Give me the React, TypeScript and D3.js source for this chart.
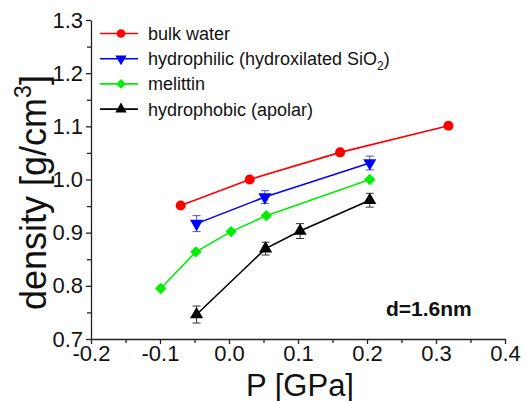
import React, { useEffect, useRef } from 'react';
import * as d3 from 'd3';

// pressure [GPa] / density [g/cm3]
const bulkP = [-0.07, 0.03, 0.161, 0.318];
const bulkD = [0.951, 1.0, 1.051, 1.101];

const philicP = [-0.047, 0.052, 0.204];
const philicD = [0.917, 0.967, 1.031];
const philicErr = [0.015, 0.012, 0.013];

const melittinP = [-0.099, -0.048, 0.003, 0.054, 0.204];
const melittinD = [0.795, 0.864, 0.902, 0.932, 1.0];

const phobicP = [-0.047, 0.053, 0.103, 0.204];
const phobicD = [0.746, 0.87, 0.903, 0.961];
const phobicErr = [0.016, 0.012, 0.014, 0.013];

const xTicks = [-0.2, -0.1, 0.0, 0.1, 0.2, 0.3, 0.4];
const yTicks = [0.7, 0.8, 0.9, 1.0, 1.1, 1.2, 1.3];

const FONT = '"Liberation Sans", Arial, sans-serif';

const App = () => {
  const width = 526;
  const height = 401;
  const margin = { top: 20, right: 21, bottom: 62, left: 91 };
  const w = width - margin.left - margin.right;
  const h = height - margin.top - margin.bottom;
  const ref = useRef(null);

  useEffect(() => {
    const g = d3.select(ref.current);
    g.selectAll('*').remove();

    const x = d3.scaleLinear().domain([-0.2, 0.4]).range([0, w]);
    const y = d3.scaleLinear().domain([0.7, 1.3]).range([h, 0]);

    const series = [
      { name: 'bulk', p: bulkP, d: bulkD, err: null, color: '#ff0000', symbol: d3.symbolCircle, size: 80, rot: 0 },
      { name: 'philic', p: philicP, d: philicD, err: philicErr, color: '#0000ff', symbol: d3.symbolTriangle, size: 75, rot: 180 },
      { name: 'melittin', p: melittinP, d: melittinD, err: null, color: '#00ee00', symbol: d3.symbolSquare, size: 64, rot: 45 },
      { name: 'phobic', p: phobicP, d: phobicD, err: phobicErr, color: '#000000', symbol: d3.symbolTriangle, size: 75, rot: 0 },
    ];

    // minor ticks at the midpoints
    const xMinor = xTicks.slice(0, -1).map((v, i) => (v + xTicks[i + 1]) / 2);
    const yMinor = yTicks.slice(0, -1).map((v, i) => (v + yTicks[i + 1]) / 2);

    const xAxis = g
      .append('g')
      .attr('transform', `translate(0, ${h})`)
      .call(
        d3
          .axisBottom(x)
          .tickValues(xTicks)
          .tickSize(5)
          .tickPadding(1)
          .tickSizeOuter(0)
          .tickFormat((d) => (+d).toFixed(1))
      );
    g.append('g')
      .attr('transform', `translate(0, ${h})`)
      .call(d3.axisBottom(x).tickValues(xMinor).tickSize(4).tickSizeOuter(0).tickFormat(() => ''))
      .select('.domain')
      .remove();

    const yAxis = g
      .append('g')
      .call(
        d3
          .axisLeft(y)
          .tickValues(yTicks)
          .tickSize(5)
          .tickPadding(3)
          .tickSizeOuter(0)
          .tickFormat((d) => (+d).toFixed(1))
      );
    g.append('g')
      .call(d3.axisLeft(y).tickValues(yMinor).tickSize(4).tickSizeOuter(0).tickFormat(() => ''))
      .select('.domain')
      .remove();

    g.selectAll('.domain, .tick line').attr('stroke', '#222').attr('stroke-width', 1.3);
    [xAxis, yAxis].forEach((a) =>
      a.selectAll('text').style('font-family', FONT).style('font-size', '22px').attr('fill', '#111')
    );

    const line = d3
      .line()
      .x((d) => x(d[0]))
      .y((d) => y(d[1]));

    series.forEach((s) => {
      const pts = s.p.map((p, i) => [p, s.d[i]]);
      g.append('path')
        .datum(pts)
        .attr('d', line)
        .attr('fill', 'none')
        .attr('stroke', s.color)
        .attr('stroke-width', 1.6);

      if (s.err) {
        const eb = g.append('g').attr('stroke', s.color === '#000000' ? '#333' : '#4455cc').attr('stroke-width', 1);
        pts.forEach((pt, i) => {
          const cx = x(pt[0]);
          const y0 = y(pt[1] - s.err[i]);
          const y1 = y(pt[1] + s.err[i]);
          eb.append('line').attr('x1', cx).attr('x2', cx).attr('y1', y0).attr('y2', y1);
          eb.append('line').attr('x1', cx - 4).attr('x2', cx + 4).attr('y1', y0).attr('y2', y0);
          eb.append('line').attr('x1', cx - 4).attr('x2', cx + 4).attr('y1', y1).attr('y2', y1);
        });
      }

      g.selectAll(`.m_${s.name}`)
        .data(pts)
        .join('path')
        .attr('class', `m_${s.name}`)
        .attr('d', d3.symbol().type(s.symbol).size(s.size))
        .attr('transform', (d) => `translate(${x(d[0])}, ${y(d[1])}) rotate(${s.rot})`)
        .attr('fill', s.color);
    });

    // legend
    const legend = g.append('g').attr('transform', `translate(${100 - margin.left}, 0)`);
    const labels = ['bulk water', 'hydrophilic (hydroxilated SiO', 'melittin', 'hydrophobic (apolar)'];
    series.forEach((s, i) => {
      const ly = 13.5 + i * 25.2;
      legend
        .append('line')
        .attr('x1', 0)
        .attr('x2', 38)
        .attr('y1', ly)
        .attr('y2', ly)
        .attr('stroke', s.color)
        .attr('stroke-width', 1.6);
      legend
        .append('path')
        .attr('d', d3.symbol().type(s.symbol).size(s.size * 0.75))
        .attr('transform', `translate(21, ${ly}) rotate(${s.rot})`)
        .attr('fill', s.color);
      const t = legend
        .append('text')
        .attr('x', 48)
        .attr('y', ly + 6.5)
        .style('font-family', FONT)
        .style('font-size', '18px')
        .attr('fill', '#111')
        .text(labels[i]);
      if (s.name === 'philic') {
        t.append('tspan').attr('dy', 5).style('font-size', '12px').text('2');
        t.append('tspan').attr('dy', -5).text(')');
      }
    });

    // annotation
    g.append('text')
      .attr('x', 386 - margin.left)
      .attr('y', 316 - margin.top)
      .style('font-family', FONT)
      .style('font-size', '21px')
      .style('font-weight', 'bold')
      .attr('fill', '#111')
      .text('d=1.6nm');

    // axis titles
    g.append('text')
      .attr('x', 300 - margin.left)
      .attr('y', 396 - margin.top)
      .attr('text-anchor', 'middle')
      .style('font-family', FONT)
      .style('font-size', '31px')
      .attr('fill', '#111')
      .text('P [GPa]');

    const yl = g
      .append('text')
      .attr('transform', `translate(${46 - margin.left}, ${310 - margin.top}) rotate(-90)`)
      .style('font-family', FONT)
      .style('font-size', '36px')
      .attr('fill', '#111')
      .text('density [g/cm');
    yl.append('tspan').attr('dy', -15).style('font-size', '23px').text('3');
    yl.append('tspan').attr('dy', 15).text(']');
  }, [h, w, margin.left, margin.top]);

  return (
    <svg width={width} height={height} style={{ position: 'absolute', left: 0, top: 0, background: '#fff' }}>
      <g ref={ref} transform={`translate(${margin.left}, ${margin.top})`} />
    </svg>
  );
};

export default App;
